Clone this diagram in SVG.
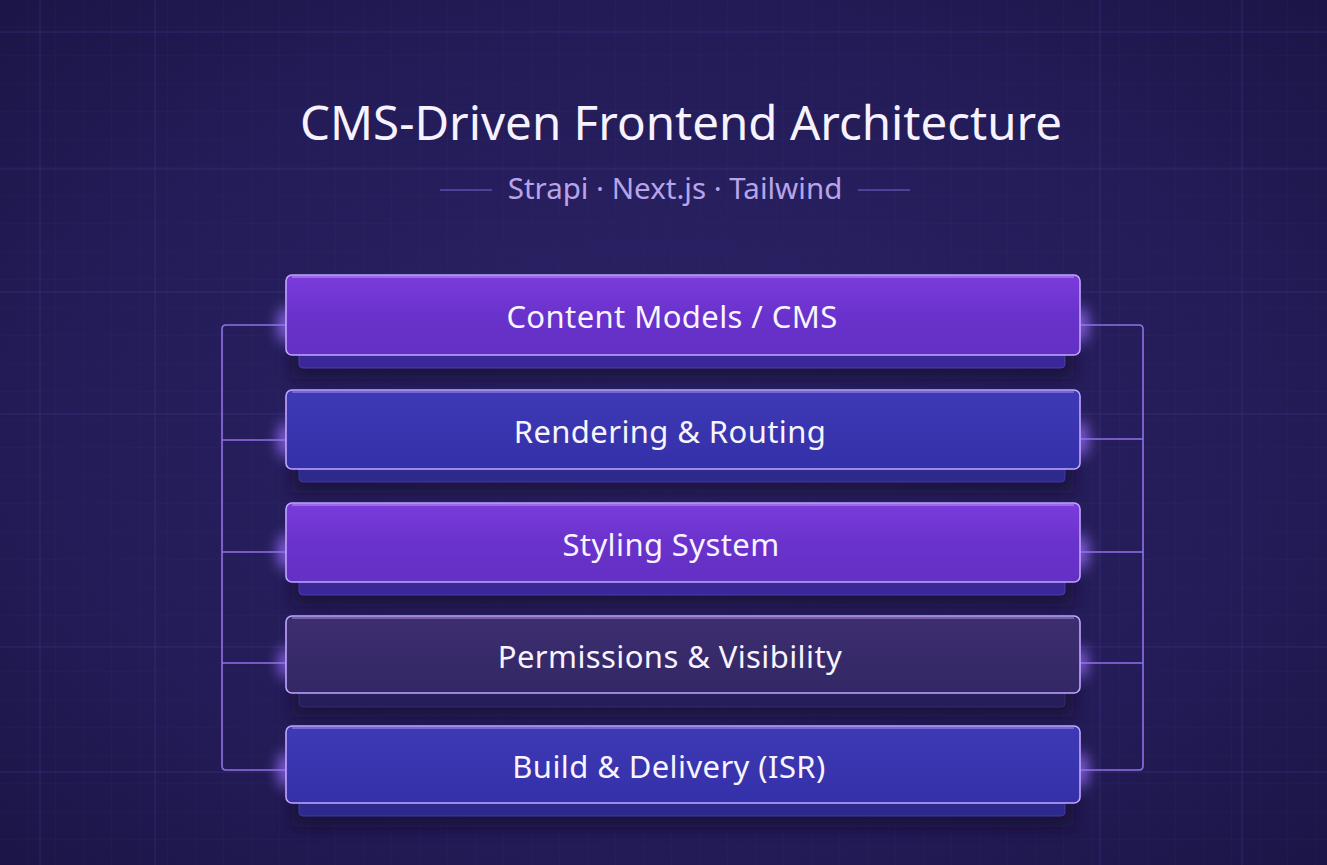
<svg xmlns="http://www.w3.org/2000/svg" width="1327" height="865" viewBox="0 0 1327 865">
  <defs>
    <radialGradient id="bg" cx="0.5" cy="0.5" r="0.75">
      <stop offset="0" stop-color="#2b2366"/>
      <stop offset="0.6" stop-color="#241c58"/>
      <stop offset="1" stop-color="#1a1444"/>
    </radialGradient>
    <pattern id="minor" width="28" height="28" patternUnits="userSpaceOnUse">
      <path d="M28 0V28M0 28H28" fill="none" stroke="#3a3080" stroke-width="0.6" opacity="0.3"/>
    </pattern>
    <linearGradient id="gPurple" x1="0" y1="0" x2="0" y2="1">
      <stop offset="0" stop-color="#7a3cdc"/>
      <stop offset="0.5" stop-color="#6a32cc"/>
      <stop offset="1" stop-color="#6330c4"/>
    </linearGradient>
    <linearGradient id="gBlue" x1="0" y1="0" x2="0" y2="1">
      <stop offset="0" stop-color="#3e3ab6"/>
      <stop offset="1" stop-color="#3430a8"/>
    </linearGradient>
    <linearGradient id="gMuted" x1="0" y1="0" x2="0" y2="1">
      <stop offset="0" stop-color="#3c2e70"/>
      <stop offset="1" stop-color="#342765"/>
    </linearGradient>
    <filter id="blur8" x="-20%" y="-50%" width="140%" height="200%">
      <feGaussianBlur stdDeviation="8"/>
    </filter>
    <filter id="glow" x="-200%" y="-200%" width="500%" height="500%">
      <feGaussianBlur stdDeviation="7"/>
    </filter>
    <style>
      .title { font-family: "Noto Sans", "Open Sans", "Liberation Sans", sans-serif; fill: #f6f2ff; }
      .sub { font-family: "Noto Sans", "Open Sans", "Liberation Sans", sans-serif; fill: #b8a4ea; }
      .label { font-family: "Noto Sans", "Open Sans", "Liberation Sans", sans-serif; fill: #f8f4ff; font-size: 31px; letter-spacing: 0.4px; text-anchor: middle; }
      .major { stroke: #4a3c98; stroke-width: 1; opacity: 0.4; }
      .conn { fill: none; stroke: #8f72e6; stroke-width: 1.6; }
      .box { stroke: #c2a6ff; stroke-width: 1.6; }
      .hl { fill: none; stroke: #d8c2ff; stroke-width: 1.2; opacity: 0.7; }
      .shade { fill: #120c30; opacity: 0.75; }
      .spot { fill: #9a70ff; opacity: 0.85; }
      .rule { stroke: #5a4aa8; stroke-width: 2; opacity: 0.8; }
    </style>
  </defs>

  <!-- background -->
  <rect width="1327" height="865" fill="url(#bg)"/>
  <rect width="1327" height="865" fill="url(#minor)"/>
  <g id="grid">
    <line class="major" x1="40" y1="0" x2="40" y2="865"/>
    <line class="major" x1="155" y1="0" x2="155" y2="865"/>
    <line class="major" x1="1100" y1="0" x2="1100" y2="865"/>
    <line class="major" x1="1242" y1="0" x2="1242" y2="865"/>
    <line class="major" x1="0" y1="32" x2="1327" y2="32"/>
    <line class="major" x1="0" y1="169" x2="1327" y2="169"/>
    <line class="major" x1="0" y1="292" x2="1327" y2="292"/>
    <line class="major" x1="0" y1="414" x2="1327" y2="414"/>
    <line class="major" x1="0" y1="647" x2="1327" y2="647"/>
    <line class="major" x1="0" y1="772" x2="1327" y2="772"/>
  </g>

  <!-- heading -->
  <g id="heading">
    <text class="title" x="681" y="140" font-size="47.5" text-anchor="middle">CMS-Driven Frontend Architecture</text>
    <line class="rule" x1="440" y1="190" x2="492" y2="190"/>
    <line class="rule" x1="858" y1="190" x2="910" y2="190"/>
    <text class="sub" x="675" y="199" font-size="29.5" text-anchor="middle">Strapi · Next.js · Tailwind</text>
  </g>

  <!-- connectors -->
  <g id="connectors">
    <path class="conn" d="M286 325H226Q222 325 222 329V766Q222 770 226 770H286"/>
    <path class="conn" d="M222 440H286M222 552H286M222 663H286"/>
    <path class="conn" d="M1080 325H1139Q1143 325 1143 329V766Q1143 770 1139 770H1080"/>
    <path class="conn" d="M1143 439H1080M1143 552H1080M1143 663H1080"/>
  </g>

  <!-- node 1 -->
  <g id="node-content-models">
    <rect class="shade" x="292" y="345" width="782" height="34" rx="6" filter="url(#blur8)"/>
    <rect x="299" y="342" width="766" height="26" rx="4" fill="#3a2898" stroke="#4d3ab0" stroke-width="1"/>
    <ellipse class="spot" cx="286" cy="325" rx="8" ry="18" filter="url(#glow)"/>
    <ellipse class="spot" cx="1080" cy="325" rx="8" ry="18" filter="url(#glow)"/>
    <rect class="box" x="286" y="275" width="794" height="80" rx="6" fill="url(#gPurple)"/>
    <path class="hl" d="M292 277H1074"/>
    <text class="label" x="672" y="328">Content Models / CMS</text>
  </g>

  <!-- node 2 -->
  <g id="node-rendering">
    <rect class="shade" x="292" y="459" width="782" height="34" rx="6" filter="url(#blur8)"/>
    <rect x="299" y="456" width="766" height="26" rx="4" fill="#2d2a8c" stroke="#3d38a8" stroke-width="1"/>
    <ellipse class="spot" cx="286" cy="440" rx="8" ry="18" filter="url(#glow)"/>
    <ellipse class="spot" cx="1080" cy="439" rx="8" ry="18" filter="url(#glow)"/>
    <rect class="box" x="286" y="390" width="794" height="79" rx="6" fill="url(#gBlue)"/>
    <path class="hl" d="M292 392H1074"/>
    <text class="label" x="670" y="443">Rendering &amp; Routing</text>
  </g>

  <!-- node 3 -->
  <g id="node-styling">
    <rect class="shade" x="292" y="572" width="782" height="34" rx="6" filter="url(#blur8)"/>
    <rect x="299" y="569" width="766" height="26" rx="4" fill="#3a2898" stroke="#4d3ab0" stroke-width="1"/>
    <ellipse class="spot" cx="286" cy="552" rx="8" ry="18" filter="url(#glow)"/>
    <ellipse class="spot" cx="1080" cy="552" rx="8" ry="18" filter="url(#glow)"/>
    <rect class="box" x="286" y="503" width="794" height="79" rx="6" fill="url(#gPurple)"/>
    <path class="hl" d="M292 505H1074"/>
    <text class="label" x="671" y="556">Styling System</text>
  </g>

  <!-- node 4 -->
  <g id="node-permissions">
    <rect class="shade" x="292" y="683" width="782" height="34" rx="6" filter="url(#blur8)"/>
    <rect x="299" y="681" width="766" height="26" rx="4" fill="#261e5a" stroke="#332a74" stroke-width="1"/>
    <ellipse class="spot" cx="286" cy="663" rx="7" ry="16" filter="url(#glow)" opacity="0.6"/>
    <ellipse class="spot" cx="1080" cy="663" rx="7" ry="16" filter="url(#glow)" opacity="0.6"/>
    <rect class="box" x="286" y="616" width="794" height="77" rx="6" fill="url(#gMuted)" stroke="#9c84d8"/>
    <path class="hl" d="M292 618H1074" opacity="0.45"/>
    <text class="label" x="670" y="668">Permissions &amp; Visibility</text>
  </g>

  <!-- node 5 -->
  <g id="node-build">
    <rect class="shade" x="292" y="793" width="782" height="34" rx="6" filter="url(#blur8)"/>
    <rect x="299" y="790" width="766" height="26" rx="4" fill="#2d2a8c" stroke="#3d38a8" stroke-width="1"/>
    <ellipse class="spot" cx="286" cy="770" rx="8" ry="18" filter="url(#glow)"/>
    <ellipse class="spot" cx="1080" cy="770" rx="8" ry="18" filter="url(#glow)"/>
    <rect class="box" x="286" y="726" width="794" height="77" rx="6" fill="url(#gBlue)"/>
    <path class="hl" d="M292 728H1074"/>
    <text class="label" x="669" y="778">Build &amp; Delivery (ISR)</text>
  </g>
</svg>
